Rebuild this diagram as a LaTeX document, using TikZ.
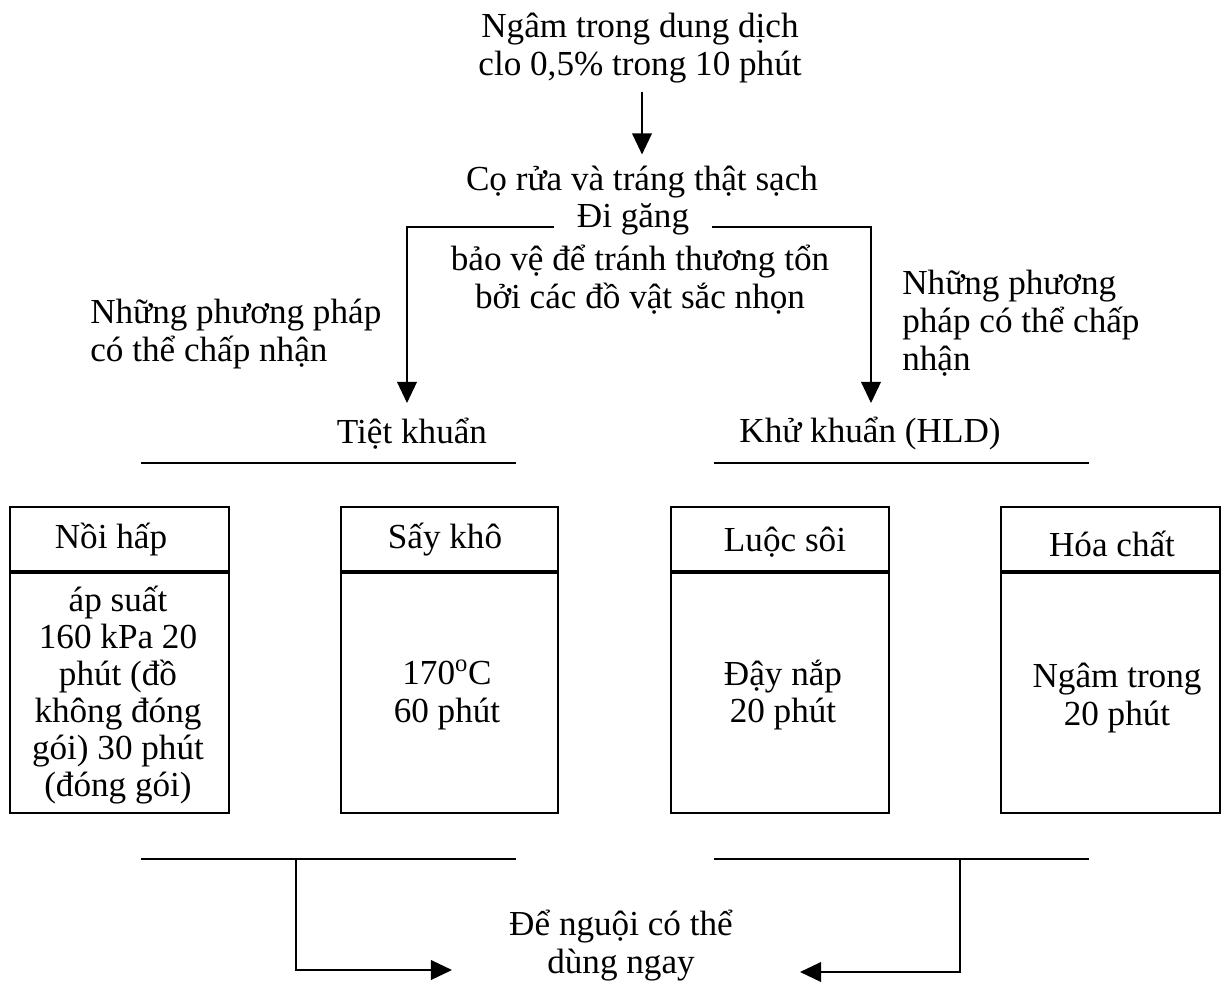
\documentclass[tikz,border=0pt]{standalone}
\usepackage{fontspec}
\setmainfont{Liberation Serif}
\usetikzlibrary{arrows.meta}
\begin{document}
\begin{tikzpicture}[x=0.025cm,y=-0.025cm,
  txt/.style={inner sep=0pt, align=center, font=\fontsize{25}{27}\selectfont},
  txl/.style={inner sep=0pt, align=left, anchor=west, font=\fontsize{25}{27}\selectfont},
  arr/.style={line width=1.2pt, -{Triangle[length=15pt,width=14pt]}},
  rule/.style={line width=2pt},
  boxframe/.style={line width=1.3pt},
  divider/.style={line width=2.6pt}
]
\useasboundingbox (0,0) rectangle (1222,984);

% top texts
\node[txt] (top) at (640,48) {Ngâm trong dung dịch\\clo 0,5\% trong 10 phút};
\node[txt] (clean) at (642,182) {Cọ rửa và tráng thật sạch};
\node[txt, inner xsep=16pt] (gang) at (633,219) {Đi găng};
\node[txt] (protect) at (640,280) {bảo vệ để tránh thương tổn\\bởi các đồ vật sắc nhọn};
\node[txl] (accL) at (90,334) {Những phương pháp\\có thể chấp nhận};
\node[txl] (accR) at (902,323) {Những phương\\pháp có thể chấp\\nhận};

\draw[arr, shorten <=6pt, shorten >=8pt] (top.south -| clean.north) -- (clean.north);

\coordinate (tipL) at (407,403);
\coordinate (tipR) at (871,403);
\draw[arr] (gang.base west) -| (tipL);
\draw[arr] (gang.base east) -| (tipR);

% categories
\node[txt] (tiet) at (412,434) {Tiệt khuẩn};
\node[txt] (khu) at (870,434) {Khử khuẩn (HLD)};
\draw[rule] (141,463) -- (516,463);
\draw[rule] (714,463) -- (1089,463);

% boxes
\draw[boxframe] (10,507) rectangle (229,813);
\draw[divider] (10,572) -- (229,572);
\draw[boxframe] (341,507) rectangle (558,813);
\draw[divider] (341,572) -- (558,572);
\draw[boxframe] (671,507) rectangle (889,813);
\draw[divider] (671,572) -- (889,572);
\draw[boxframe] (1001,507) rectangle (1220,813);
\draw[divider] (1001,572) -- (1220,572);

\node[txt] (h1) at (111,540) {Nồi hấp};
\node[txt] (h2) at (445,540) {Sấy khô};
\node[txt] (h3) at (785,542) {Luộc sôi};
\node[txt] (h4) at (1112,544) {Hóa chất};

\node[txt, font=\fontsize{25}{26.3}\selectfont] (b1) at (118,695) {áp suất\\160 kPa 20\\phút (đồ\\không đóng\\gói) 30 phút\\(đóng gói)};
\node[txt] (b2) at (447,695) {170\textsuperscript{o}C\\60 phút};
\node[txt] (b3) at (783,695) {Đậy nắp\\20 phút};
\node[txt] (b4) at (1117,698) {Ngâm trong\\20 phút};

% bottom
\draw[rule] (141,859) -- (516,859);
\draw[rule] (714,859) -- (1089,859);
\node[txt] (cool) at (621,946) {Để nguội có thể\\dùng ngay};

\coordinate (sL) at (296,859);
\coordinate (sR) at (960,859);
\coordinate (tipA) at (452,970);
\coordinate (tipB) at (800,972);
\draw[arr] (sL) |- (tipA);
\draw[arr] (sR) |- (tipB);
\end{tikzpicture}
\end{document}
